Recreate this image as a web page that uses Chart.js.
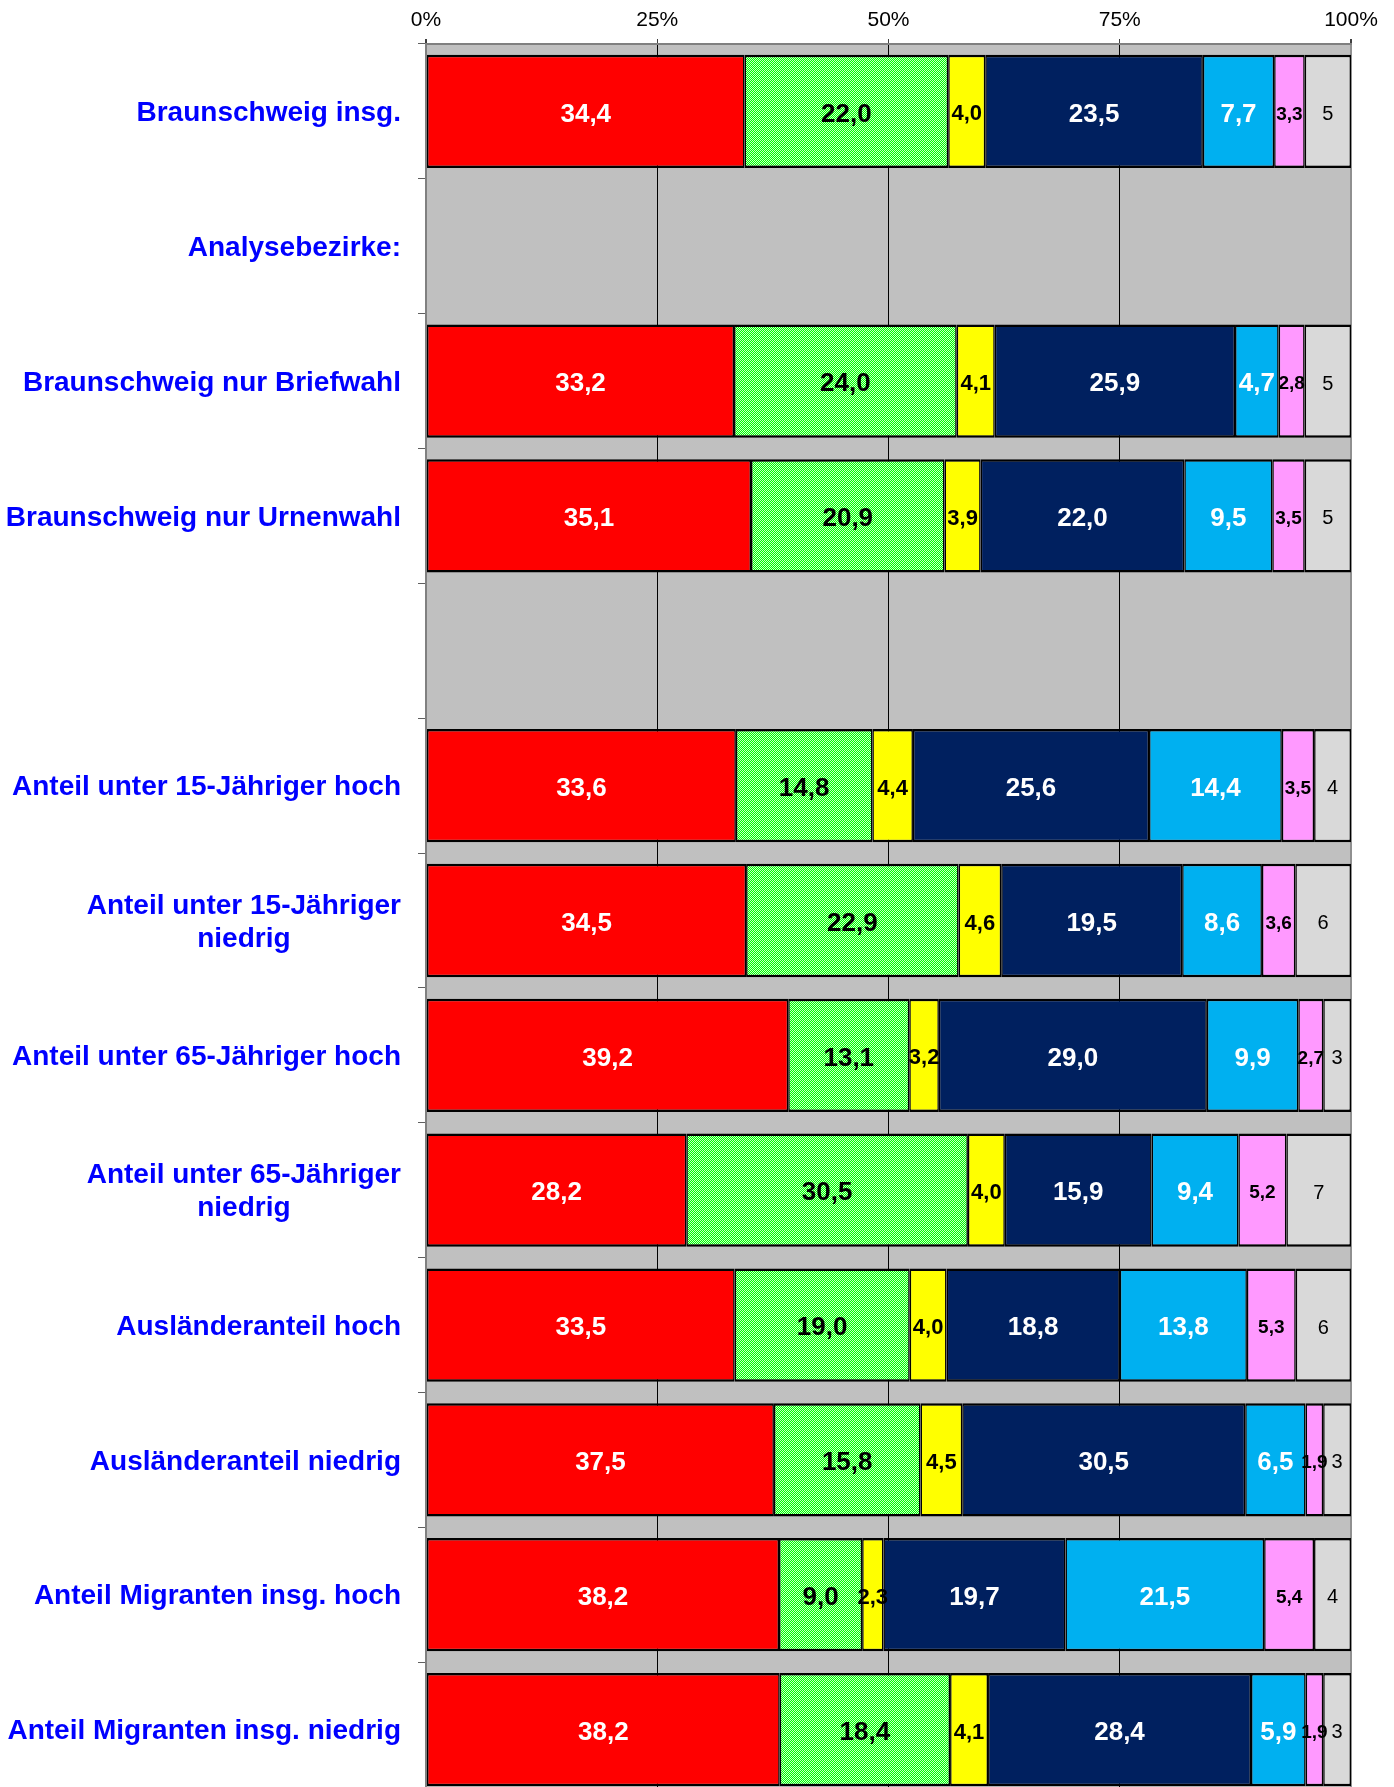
<!DOCTYPE html>
<html lang="de">
<head>
<meta charset="utf-8">
<title>Zweitstimmen nach Analysebezirken</title>
<script src="https://cdn.jsdelivr.net/npm/chart.js@4/dist/chart.umd.min.js"></script>
<style>
  html, body { margin: 0; padding: 0; background: #fff; overflow: hidden; }
  #wrap { width: 1394px; height: 1797px; position: relative; }
</style>
</head>
<body>
<div id="wrap"><canvas id="votesChart"></canvas></div>
<script>
// categories (multi-line labels as arrays), empty rows have no bars
const categories = [
  'Braunschweig insg.',
  'Analysebezirke:',
  'Braunschweig nur Briefwahl',
  'Braunschweig nur Urnenwahl',
  '',
  'Anteil unter 15-Jähriger hoch',
  ['Anteil unter 15-Jähriger', 'niedrig'],
  'Anteil unter 65-Jähriger hoch',
  ['Anteil unter 65-Jähriger', 'niedrig'],
  'Ausländeranteil hoch',
  'Ausländeranteil niedrig',
  'Anteil Migranten insg. hoch',
  'Anteil Migranten insg. niedrig'
];

const spd      = [34.4, null, 33.2, 35.1, null, 33.6, 34.5, 39.2, 28.2, 33.5, 37.5, 38.2, 38.2];
const gruene   = [22.0, null, 24.0, 20.9, null, 14.8, 22.9, 13.1, 30.5, 19.0, 15.8,  9.0, 18.4];
const fdp      = [ 4.0, null,  4.1,  3.9, null,  4.4,  4.6,  3.2,  4.0,  4.0,  4.5,  2.3,  4.1];
const cdu      = [23.5, null, 25.9, 22.0, null, 25.6, 19.5, 29.0, 15.9, 18.8, 30.5, 19.7, 28.4];
const afd      = [ 7.7, null,  4.7,  9.5, null, 14.4,  8.6,  9.9,  9.4, 13.8,  6.5, 21.5,  5.9];
const linke    = [ 3.3, null,  2.8,  3.5, null,  3.5,  3.6,  2.7,  5.2,  5.3,  1.9,  5.4,  1.9];
const sonstige = [ 5,   null,  5,    5,   null,  4,    6,    3,    7,    6,    3,    4,    3  ];

const xTickLabels = ['0%', '25%', '50%', '75%', '100%'];

const FONT = "'Liberation Sans', Arial, sans-serif";

// fine green/white dither used by the second series
function checker(a, b) {
  const c = document.createElement('canvas');
  c.width = 2; c.height = 2;
  const g = c.getContext('2d');
  g.fillStyle = a; g.fillRect(0, 0, 2, 2);
  g.fillStyle = b; g.fillRect(0, 0, 1, 1); g.fillRect(1, 1, 1, 1);
  return g.createPattern(c, 'repeat');
}

const series = [
  {label: 'SPD',      values: spd,      color: '#ff0000', text: '#ffffff', font: 'bold 26px', digits: 1},
  {label: 'Grüne',    values: gruene,   color: checker('#00ff00', '#c8ffc8'), text: '#000000', font: 'bold 26px', digits: 1},
  {label: 'FDP',      values: fdp,      color: '#ffff00', text: '#000000', font: 'bold 22px', digits: 1},
  {label: 'CDU',      values: cdu,      color: '#00205f', text: '#ffffff', font: 'bold 26px', digits: 1},
  {label: 'AfD',      values: afd,      color: '#00b0f0', text: '#ffffff', font: 'bold 26px', digits: 1},
  {label: 'Linke',    values: linke,    color: '#ff99ff', text: '#000000', font: 'bold 19px', digits: 1},
  {label: 'Sonstige', values: sonstige, color: '#d9d9d9', text: '#000000', font: '20px',      digits: 0}
];

// each row is shown as 100 % of its own total
const rowTotals = categories.map((_, i) =>
  series.reduce((sum, s) => sum + (s.values[i] || 0), 0));

const fmt = (v, d) => v.toFixed(d).replace('.', ',');

const plotBackground = {
  id: 'plotBackground',
  beforeDraw(chart) {
    const {ctx, chartArea: a} = chart;
    ctx.save();
    ctx.fillStyle = '#c0c0c0';
    ctx.fillRect(a.left, a.top, a.right - a.left, a.bottom - a.top);
    ctx.restore();
  }
};

const valueLabels = {
  id: 'valueLabels',
  afterDatasetsDraw(chart) {
    const ctx = chart.ctx;
    chart.data.datasets.forEach((ds, i) => {
      const s = series[i];
      chart.getDatasetMeta(i).data.forEach((bar, j) => {
        const v = s.values[j];
        if (v == null) return;
        const {x, y, base} = bar.getProps(['x', 'y', 'base'], true);
        ctx.save();
        ctx.font = s.font + ' ' + FONT;
        ctx.fillStyle = s.text;
        ctx.textAlign = 'center';
        ctx.textBaseline = 'middle';
        ctx.fillText(fmt(v, s.digits), (x + base) / 2, y + 3);
        ctx.restore();
      });
    });
  }
};

// category names: right-aligned block, lines centred inside it
const categoryLabels = {
  id: 'categoryLabels',
  afterDraw(chart) {
    const {ctx} = chart;
    const yScale = chart.scales.y;
    const right = yScale.right - 25;
    ctx.save();
    ctx.font = 'bold 28px ' + FONT;
    ctx.fillStyle = '#0000ff';
    ctx.textAlign = 'center';
    ctx.textBaseline = 'middle';
    categories.forEach((lab, i) => {
      const lines = [].concat(lab);
      const w = Math.max(...lines.map(l => ctx.measureText(l).width));
      const y = yScale.getPixelForValue(i) + 2;
      lines.forEach((l, k) => {
        ctx.fillText(l, right - w / 2, y + (k - (lines.length - 1) / 2) * 33);
      });
    });
    ctx.restore();
  }
};

new Chart(document.getElementById('votesChart'), {
  type: 'bar',
  data: {
    labels: categories,
    datasets: series.map(s => ({
      label: s.label,
      data: s.values.map((v, i) => v == null ? null : v / rowTotals[i] * 100),
      backgroundColor: s.color,
      borderColor: '#000000',
      borderWidth: {top: 2.5, bottom: 2.5, left: 1.5, right: 1.5},
      borderSkipped: false,
      barPercentage: 0.84,
      categoryPercentage: 1
    }))
  },
  options: {
    indexAxis: 'y',
    responsive: true,
    maintainAspectRatio: false,
    animation: false,
    layout: {padding: {left: 0, right: 43, top: 0, bottom: 0}},
    plugins: {
      legend: {display: false},
      tooltip: {enabled: false}
    },
    scales: {
      x: {
        position: 'top',
        stacked: true,
        min: 0,
        max: 100,
        afterFit: s => { s.height = 44; },
        ticks: {
          stepSize: 25,
          padding: 6,
          color: '#000000',
          font: {family: FONT, size: 21},
          callback: (v, i) => xTickLabels[i]
        },
        grid: {
          color: ctx => (ctx.tick && (ctx.tick.value === 0 || ctx.tick.value === 100)) ? '#909090' : '#000000',
          lineWidth: ctx => (ctx.tick && (ctx.tick.value === 0 || ctx.tick.value === 100)) ? 2 : 1,
          tickColor: '#404040',
          tickLength: 5
        },
        border: {display: true, color: '#808080', width: 2}
      },
      y: {
        stacked: true,
        afterFit: s => { s.width = 426; },
        ticks: {display: false},
        grid: {
          drawOnChartArea: false,
          drawTicks: true,
          tickLength: 8,
          tickColor: '#606060',
          color: '#606060'
        },
        border: {display: true, color: '#808080', width: 2}
      }
    }
  },
  plugins: [plotBackground, valueLabels, categoryLabels]
});
</script>
</body>
</html>
